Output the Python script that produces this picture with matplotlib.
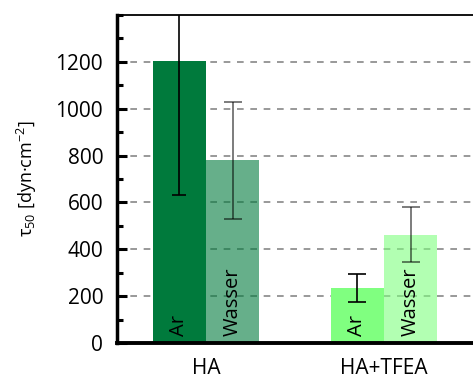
import numpy as np
import matplotlib.pyplot as plt
from matplotlib.ticker import MultipleLocator

plt.rcParams['font.family'] = ['Open Sans', 'DejaVu Sans']
plt.rcParams['mathtext.default'] = 'regular'

# data
groups = ['HA', 'HA+TFEA']
ar_vals = [1205, 236]
ar_err = [575, 60]
wasser_vals = [780, 463]
wasser_err = [250, 118]
bar_colors = ['#007A3C', '#80FF80']

fig = plt.figure(figsize=(4.73, 3.81), dpi=100)
ax = fig.add_axes([0.2474, 0.0997, 0.7526, 0.8609])

x = np.arange(len(groups))
w = 0.3

for i in range(len(groups)):
    ax.bar(x[i] - w / 2, ar_vals[i], w, color=bar_colors[i], zorder=2)
    ax.errorbar(x[i] - w / 2, ar_vals[i], yerr=ar_err[i], color='black',
                lw=1.2, capsize=5 if i == 0 else 6.5, capthick=1.2, zorder=3)
    ax.bar(x[i] + w / 2, wasser_vals[i], w, color=bar_colors[i], alpha=0.6, zorder=2)
    ax.errorbar(x[i] + w / 2, wasser_vals[i], yerr=wasser_err[i], color='black',
                alpha=0.6, lw=1.2, capsize=6.5, capthick=1.2, zorder=3)
    ax.text(x[i] - w / 2, 30, 'Ar', rotation=90, ha='center', va='bottom',
            fontsize=14.5, zorder=4)
    ax.text(x[i] + w / 2, 30, 'Wasser', rotation=90, ha='center', va='bottom',
            fontsize=14.5, zorder=4)

ax.set_xlim(-0.5, 1.5)
ax.set_ylim(0, 1400)
ax.set_xticks(x)
ax.set_xticklabels(groups, fontsize=15)
ax.tick_params(axis='x', length=0, pad=11)
ax.yaxis.set_major_locator(MultipleLocator(200))
ax.yaxis.set_minor_locator(MultipleLocator(100))
ax.set_yticks([0, 200, 400, 600, 800, 1000, 1200])
ax.tick_params(axis='y', which='major', direction='in', length=7.5, width=2.2,
               labelsize=15, pad=10)
ax.tick_params(axis='y', which='minor', direction='in', length=4.5, width=2.2)

ax.yaxis.grid(True, ls=(0, (4, 4)), color='#888888', lw=1.2, zorder=0)
ax.set_axisbelow(True)

ax.spines['left'].set_linewidth(2.5)
ax.spines['bottom'].set_linewidth(2.8)
ax.spines['top'].set_linewidth(1.3)
ax.spines['right'].set_visible(False)

ax.set_ylabel('τ$_{50}$ [dyn·cm$^{-2}$]', fontsize=13, labelpad=12)

fig.savefig('out.png', dpi=100)
